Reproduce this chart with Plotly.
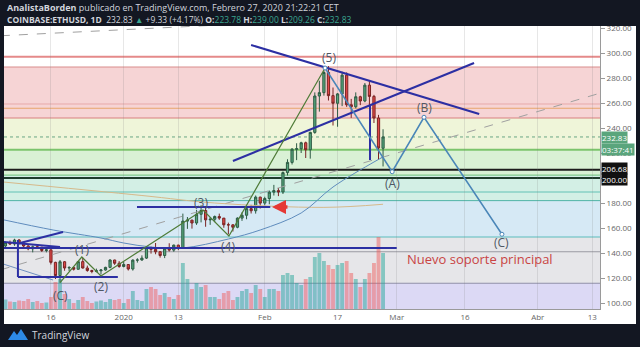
import pandas as pd
import plotly.graph_objects as go

# ---------------- data ----------------
dates = pd.date_range("2019-12-06", "2020-02-27", freq="D")
opens = [145.6,148.3,147.2,150.4,147.9,145.6,143.4,145.0,144.6,142.0,
         142.5,132.5,122.0,133.0,128.0,128.4,127.0,133.1,128.0,126.0,125.2,125.8,126.4,128.5,134.4,131.8,
         129.2,130.8,127.2,134.3,134.4,135.9,144.2,142.9,141.0,138.0,143.8,142.3,146.3,143.8,165.5,166.3,
         164.0,171.0,174.0,166.5,167.0,169.2,167.9,162.6,162.5,160.6,167.9,170.2,175.5,173.8,184.7,
         179.9,183.6,188.7,189.9,188.8,204.3,212.5,223.0,223.4,228.2,222.6,236.5,265.6,268.3,284.4,
         265.9,259.8,267.3,282.3,258.6,257.0,265.0,261.6,274.3,265.3,248.0,223.78]
highs = [149.0,150.0,151.4,151.2,148.5,146.3,146.0,145.9,145.0,143.6,
         143.0,133.0,134.4,133.6,129.5,128.9,133.6,136.2,129.9,126.6,127.5,127.2,129.0,135.0,134.6,133.5,
         132.8,131.0,135.0,135.8,138.1,144.8,145.2,148.0,141.5,144.2,147.8,146.7,146.6,171.5,168.8,166.6,
         174.5,178.2,176.5,168.7,170.0,171.5,168.0,164.3,163.1,168.5,172.5,176.2,178.5,186.0,185.0,
         185.0,190.0,194.5,192.0,205.2,215.0,224.0,227.8,229.0,229.1,237.0,268.5,277.8,286.0,289.5,
         272.4,268.0,285.0,284.5,263.3,268.5,265.8,276.0,277.5,266.5,250.5,239.0]
lows = [143.6,146.5,145.8,146.8,144.0,142.2,140.5,143.5,140.8,140.5,
        130.8,119.2,116.3,125.8,125.6,126.0,126.7,127.5,125.0,123.8,124.5,122.8,125.9,127.8,130.5,128.2,
        128.5,126.0,125.9,132.3,133.8,135.2,139.5,139.0,136.3,135.9,141.2,141.0,142.3,143.5,159.3,159.5,
        162.5,164.5,161.0,162.5,164.7,166.5,160.2,155.0,157.2,159.8,165.7,167.0,171.6,171.5,175.6,
        178.0,179.0,186.0,185.5,187.2,202.0,210.8,214.3,220.0,216.0,215.5,235.4,253.1,265.9,262.0,
        242.0,241.0,257.5,256.9,248.1,255.7,258.3,260.6,258.0,244.0,214.7,209.26]
closes = [148.3,147.2,150.4,147.9,145.6,143.4,145.0,144.6,142.0,142.5,
          132.5,122.0,133.0,128.0,128.4,127.0,133.1,128.0,126.0,125.2,125.8,126.4,128.5,134.4,131.8,129.2,
          130.8,127.2,134.3,134.4,135.9,144.2,142.9,141.0,138.0,143.8,142.3,146.3,143.8,165.5,166.3,164.0,
          171.0,174.0,166.5,167.0,169.2,167.9,162.6,162.5,160.6,167.9,170.2,175.5,173.8,184.7,179.9,
          183.6,188.7,189.9,188.8,204.3,212.5,223.0,223.4,228.2,222.6,236.5,265.6,268.3,284.4,265.9,
          259.8,267.3,282.3,258.6,257.0,265.0,261.6,274.3,265.3,248.0,224.0,232.83]
volumes = [95,75,70,85,80,100,70,80,60,65,
           120,270,300,150,100,60,90,120,80,60,75,85,70,100,90,100,
           60,100,180,90,80,200,220,200,140,160,120,100,140,460,300,200,260,220,240,120,120,100,160,180,
           90,120,180,200,160,240,200,
           120,200,200,180,340,360,340,260,240,300,320,520,560,480,440,400,440,460,480,360,300,220,300,
           360,460,720,560]

# moving averages
ma_dates = ["2019-12-05", "2019-12-16 12:00", "2019-12-27", "2020-01-01", "2020-01-07", "2020-01-14",
            "2020-01-24", "2020-01-31", "2020-02-09", "2020-02-16", "2020-02-25", "2020-02-27"]
ma_vals = [167, 158.4, 152, 148, 144.8, 144, 151.2, 158.4, 172, 192.8, 212.8, 216.8]
ma2_dates = ["2019-12-05", "2020-01-05", "2020-01-21", "2020-02-14", "2020-02-27"]
ma2_vals = [197, 186, 180, 176.5, 179]

# Elliott waves
impulse_dates = ["2019-12-18", "2019-12-22 19:00", "2019-12-27", "2020-01-18 10:00",
                 "2020-01-24 03:00", "2020-02-14 06:00"]
impulse_vals = [116.3, 136.8, 121.6, 174.4, 153.6, 288.0]
abc_dates = ["2020-02-14 06:00", "2020-02-29", "2020-03-07", "2020-03-24 03:00"]
abc_vals = [288.0, 205.0, 248.6, 155.0]

# trend lines (dashed rays)
trend_dates = ["2019-12-05", "2020-04-15"]
trend_vals = [126.6, 268.2]
trend2_dates = ["2019-12-05", "2020-02-01"]
trend2_vals = [313.8, 324.2]

# dark-blue drawings: (dates, prices)
drawings = [
    (["2020-01-29", "2020-03-19 03:00"], [306.4, 251.2]),
    (["2020-01-25", "2020-03-18"], [213.6, 292.0]),
    (["2020-02-24 03:00", "2020-02-24 03:00"], [258.4, 214.4]),
    (["2019-12-04", "2020-03-01"], [144.0, 144.0]),
    (["2020-01-03 22:00", "2020-02-02 05:00"], [176.8, 176.8]),
    (["2019-12-05 12:00", "2019-12-18"], [148.8, 144.8]),
    (["2019-12-09 05:00", "2019-12-18 16:00"], [148.0, 156.8]),
    (["2019-12-08 18:00", "2019-12-08 18:00"], [150.4, 120.8]),
    (["2019-12-08 18:00", "2019-12-30 17:00"], [120.8, 120.8]),
]
thin_dates = ["2019-12-04 20:00", "2019-12-16 11:00"]
thin_vals = [132.0, 118.4]

# fibonacci levels and fills
fib_levels = [288.8, 248.0, 222.7, 202.3, 181.9, 152.8, 115.8]
fib_fills = ["#f6d4d5", "#eff5d9", "#d9f1d5", "#d3efe5", "#d6e9f5", "#e6e6e9", "#dcd9f5"]
fib_lines = ["#d98c8c", "#d98080", "#7cc46c", "#6cbf7a", "#4fb3a6", "#5bbcbc", "#8f8fa8"]
fib_widths = [1, 1, 2, 1, 1, 1, 1]

hline_prices = [297.0, 259.2, 255.8, 232.83, 206.68, 200.0, 188.8, 141.0]
hline_colors = ["#e58a8a", "#e7a9a9", "#e8a56c", "#6aa884", "#1c1c1c", "#1f3b2c", "#62c1b5", "#9a9aa2"]
hline_widths = [2, 1, 1, 1, 2, 2, 1, 1]
hline_dash = ["solid", "solid", "solid", "dot", "solid", "solid", "solid", "solid"]

tick_vals = ["2019-12-16", "2020-01-01", "2020-01-13", "2020-02-01", "2020-02-17",
             "2020-03-01", "2020-03-16", "2020-04-01", "2020-04-13"]
tick_text = ["16", "2020", "13", "Feb", "17", "Mar", "16", "Abr", "13"]
price_ticks = [100, 120, 140, 160, 180, 200, 220, 240, 260, 280, 300, 320]
price_text = ["100.00", "120.00", "140.00", "160.00", "180.00", "", "220.00", "240.00",
              "260.00", "280.00", "300.00", "320.00"]

# ---------------- layout helpers ----------------
W, H = 640, 347
ML, MR, MT, MB = 4, 40, 26, 38
def px(x):
    return (x - ML) / (W - ML - MR)
def py(y):
    return (H - MB - y) / (H - MT - MB)

DARK = "#131722"
NAVY = "#2c2fa3"

fig = go.Figure()

vol_colors = ["rgba(38,166,154,0.5)" if c >= o else "rgba(239,83,80,0.45)" for o, c in zip(opens, closes)]
fig.add_trace(go.Bar(x=dates, y=volumes, marker=dict(color=vol_colors, line=dict(width=0)),
                     xaxis="x", yaxis="y", showlegend=False, hoverinfo="skip"))

fig.add_trace(go.Scatter(x=trend_dates, y=trend_vals, mode="lines", yaxis="y2",
                         line=dict(color="#a0a0a0", width=1, dash="dash"), showlegend=False))
fig.add_trace(go.Scatter(x=trend2_dates, y=trend2_vals, mode="lines", yaxis="y2",
                         line=dict(color="#a0a0a0", width=1, dash="dash"), showlegend=False))
fig.add_trace(go.Scatter(x=ma2_dates, y=ma2_vals, mode="lines", yaxis="y2", line_shape="spline",
                         line=dict(color="#d6b98a", width=1), showlegend=False))
fig.add_trace(go.Scatter(x=ma_dates, y=ma_vals, mode="lines", yaxis="y2", line_shape="spline",
                         line=dict(color="#5f8cbd", width=1), showlegend=False))
fig.add_trace(go.Scatter(x=thin_dates, y=thin_vals, mode="lines", yaxis="y2",
                         line=dict(color="#6f8fbf", width=1), showlegend=False))

fig.add_trace(go.Candlestick(x=dates, open=opens, high=highs, low=lows, close=closes, yaxis="y2",
                             increasing=dict(fillcolor="#55a67c", line=dict(color="#2e5c44", width=1)),
                             decreasing=dict(fillcolor="#e04848", line=dict(color="#7a2424", width=1)),
                             whiskerwidth=0, showlegend=False, hoverinfo="skip"))

for dx, dy in drawings:
    fig.add_trace(go.Scatter(x=dx, y=dy, mode="lines", yaxis="y2",
                             line=dict(color=NAVY, width=2), showlegend=False))

fig.add_trace(go.Scatter(x=impulse_dates, y=impulse_vals, mode="lines", yaxis="y2",
                         line=dict(color="#4f7c38", width=1.2), showlegend=False))
fig.add_trace(go.Scatter(x=abc_dates, y=abc_vals, mode="lines+markers", yaxis="y2",
                         line=dict(color="#4a86b8", width=1.5),
                         marker=dict(size=4, color="white", line=dict(color="#4a86b8", width=1)),
                         showlegend=False))

shapes = []
# frame
for x0, x1, y0, y1 in [(0, 640, 0, 26), (0, 640, 324, 347), (0, 4, 0, 347), (636, 640, 0, 347)]:
    shapes.append(dict(type="rect", xref="paper", yref="paper", x0=px(x0), x1=px(x1),
                       y0=py(y1), y1=py(y0), fillcolor=DARK, line=dict(width=0), layer="above"))
# fib bands
bounds = fib_levels + [60]
for i, col in enumerate(fib_fills):
    shapes.append(dict(type="rect", xref="paper", yref="y2", x0=0, x1=1, y0=bounds[i + 1], y1=bounds[i],
                       fillcolor=col, line=dict(width=0), layer="below"))
for lvl, col, w in zip(fib_levels, fib_lines, fib_widths):
    shapes.append(dict(type="line", xref="paper", yref="y2", x0=0, x1=1, y0=lvl, y1=lvl,
                       line=dict(color=col, width=w), layer="below"))
for p, col, w, d in zip(hline_prices, hline_colors, hline_widths, hline_dash):
    shapes.append(dict(type="line", xref="paper", yref="y2", x0=0, x1=1, y0=p, y1=p,
                       line=dict(color=col, width=w, dash=d), layer="below"))
# TradingView logo
pts = [(8, 340), (14, 331), (17, 335), (21, 329), (28, 340)]
path = "M " + " L ".join(f"{px(a)},{py(b)}" for a, b in pts) + " Z"
shapes.append(dict(type="path", xref="paper", yref="paper", path=path, fillcolor="#2d8ae6",
                   line=dict(width=0), layer="above"))

ann = []
lab_font = dict(family="Open Sans", size=12, color="#4f5864")
for t, xd, yv in [("(5)", "2020-02-15 03:00", 296.8), ("(B)", "2020-03-07", 256.8),
                  ("(A)", "2020-02-29", 196.0), ("(C)", "2020-03-24 03:00", 148.6),
                  ("(3)", "2020-01-18", 180.8), ("(4)", "2020-01-23 22:00", 145.6),
                  ("(1)", "2019-12-22 19:00", 143.2), ("(2)", "2019-12-27", 113.6),
                  ("(C)", "2019-12-18", 106.4)]:
    ann.append(dict(text=t, x=xd, y=yv, xref="x", yref="y2", showarrow=False, font=lab_font))
ann.append(dict(text="Nuevo soporte principal", x="2020-03-02 19:00", y=135.2, xref="x", yref="y2",
                xanchor="left", showarrow=False,
                font=dict(family="Open Sans", size=13, color="#c94444")))
ann.append(dict(text="", x="2020-02-02 14:00", y=176.8, xref="x", yref="y2", showarrow=True,
                ax=17, ay=0, arrowhead=2, arrowsize=0.8, arrowwidth=3.5, arrowcolor="#e53935"))
# price labels
for txt, yv, bg, ys in [("232.83", 232.83, "#5aa57c", -0.5), ("03:37:41", 232.83, "#5aa57c", -12.5),
                        ("206.68", 206.68, "#111111", 1), ("200.00", 200.0, "#111111", -1)]:
    ann.append(dict(text=txt, x=1, y=yv, xref="paper", yref="y2", xanchor="left", yanchor="middle",
                    yshift=ys, xshift=1, showarrow=False, bgcolor=bg, borderpad=0,
                    font=dict(family="Open Sans", size=8, color="white")))
# header and footer
ann.append(dict(text="<b>AnalistaBorden</b> publicado en TradingView.com, Febrero 27, 2020 21:22:21 CET",
                x=px(5), y=py(8), xref="paper", yref="paper", xanchor="left", yanchor="middle",
                showarrow=False, font=dict(family="Open Sans", size=9, color="#d1d4dc")))
g = "#3aa58f"
ann.append(dict(text=(f"<b>COINBASE:ETHUSD, 1D</b>  232.83 <span style='color:{g}'>▲</span> +9.33 (+4.17%) "
                      f"<b>O:</b><span style='color:{g}'>223.78</span> <b>H:</b><span style='color:{g}'>239.00</span> "
                      f"<b>L:</b><span style='color:{g}'>209.26</span> <b>C:</b><span style='color:{g}'>232.83</span>"),
                x=px(5), y=py(19), xref="paper", yref="paper", xanchor="left", yanchor="middle",
                showarrow=False, font=dict(family="Open Sans", size=8.5, color="#d1d4dc")))
ann.append(dict(text="TradingView", x=px(30), y=py(335), xref="paper", yref="paper", xanchor="left",
                yanchor="middle", showarrow=False, font=dict(family="Open Sans", size=10, color="#d1d4dc")))

fig.update_layout(
    width=W, height=H, margin=dict(l=ML, r=MR, t=MT, b=MB),
    paper_bgcolor="white", plot_bgcolor="white",
    bargap=0.15, showlegend=False, shapes=shapes, annotations=ann,
    xaxis=dict(type="date", range=["2019-12-05 16:30", "2020-04-14 16:20"], rangeslider=dict(visible=False),
               tickvals=tick_vals, ticktext=tick_text, showgrid=True, gridcolor="rgba(120,120,120,0.18)",
               tickfont=dict(family="Open Sans", size=8, color="#666"), showline=True, linecolor="#9a9a9a",
               ticks="", zeroline=False, fixedrange=True),
    yaxis=dict(range=[0, 2830], visible=False, fixedrange=True),
    yaxis2=dict(overlaying="y", side="right", range=[95.2, 321.6], tickvals=price_ticks,
                ticktext=price_text, showgrid=False, zeroline=False, showline=True, linecolor="#9a9a9a",
                ticks="outside", ticklen=4, tickcolor="#9a9a9a",
                tickfont=dict(family="Open Sans", size=8, color="#666"), fixedrange=True),
)

fig.write_html("out.html", config=dict(displayModeBar=False))
